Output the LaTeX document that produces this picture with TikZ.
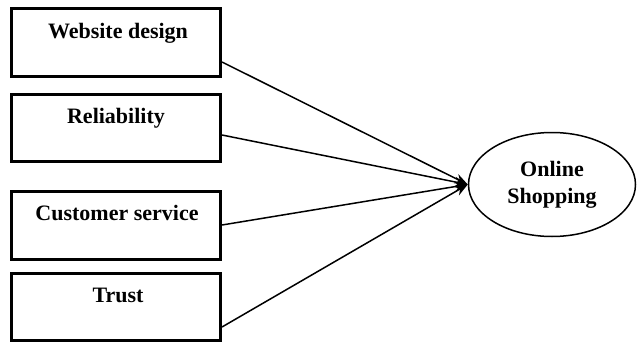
\documentclass[tikz,border=0pt]{standalone}
\usepackage{fontspec}
\setmainfont{Liberation Serif}
\usetikzlibrary{arrows.meta,shapes.geometric}
\begin{document}
\begin{tikzpicture}[x=1pt,y=-1pt,
  factor/.style={draw,line width=3pt,minimum width=209pt,inner sep=0pt},
  caption/.style={anchor=base,inner sep=0pt,font=\bfseries\fontsize{22}{27}\selectfont},
  target/.style={draw,ellipse,line width=1.5pt,minimum width=167pt,minimum height=104pt,inner sep=0pt,align=center,font=\bfseries\fontsize{22}{27}\selectfont},
  link/.style={line width=1.5pt,-{Stealth[length=13pt,width=10pt]}}]
\useasboundingbox (0,0) rectangle (640,343);
% factor boxes
\node[factor,minimum height=68pt] (b1) at (116,42.5) {};
\node[factor,minimum height=67pt] (b2) at (116,128) {};
\node[factor,minimum height=68pt] (b3) at (116,225.5) {};
\node[factor,minimum height=67pt] (b4) at (116,307) {};
\node[caption] (t1) at (118,38) {Website design};
\node[caption] (t2) at (116,123) {Reliability};
\node[caption] (t3) at (117,220) {Customer service};
\node[caption] (t4) at (118,302) {Trust};
% outcome
\node[target] (os) at (552,184.5) {Online\\Shopping};
% connector start points on the box edges
\coordinate (s1) at (222,62);
\coordinate (s2) at (222,135);
\coordinate (s3) at (222,225);
\coordinate (s4) at (222,327);
\draw[link] (s1) -- (os.west);
\draw[link] (s2) -- (os.west);
\draw[link] (s3) -- (os.west);
\draw[link] (s4) -- (os.west);
\end{tikzpicture}
\end{document}
